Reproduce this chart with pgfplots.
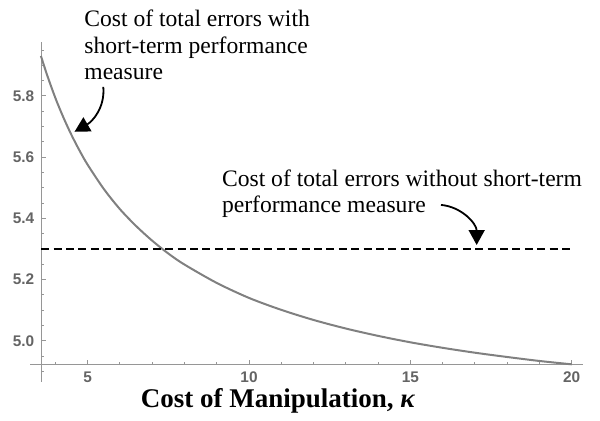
\documentclass[border=0pt]{standalone}
\usepackage{fontspec}
\setmainfont{Liberation Serif}
\newfontfamily\ticksans{Liberation Sans}
\usepackage{pgfplots}
\usepackage{pgfplotstable}
\pgfplotsset{compat=1.18}
\usetikzlibrary{arrows.meta}

\definecolor{curvegray}{RGB}{128,128,128}
\definecolor{axisgray}{RGB}{150,150,150}
\definecolor{labelgray}{RGB}{100,100,100}

% cost of total errors with the short-term measure
\pgfplotstableread{
kappa cost
3.55  5.931
3.75  5.866
4.00  5.793
4.25  5.729
4.50  5.672
4.75  5.621
5.00  5.575
5.50  5.496
6.00  5.430
6.50  5.375
7.00  5.327
7.50  5.285
8.00  5.249
9.00  5.189
10.0  5.140
11.0  5.101
12.0  5.068
13.0  5.040
14.0  5.016
15.0  4.995
16.0  4.977
17.0  4.961
18.0  4.947
19.0  4.934
20.0  4.923
}\costdata

\begin{document}
\begin{tikzpicture}
\begin{axis}[
    x=16.135pt, y=153pt,
    xmin=3.212, xmax=20.339,
    ymin=4.8654, ymax=5.9775,
    axis lines=left,
    axis line style={axisgray, line width=0.5pt, -},
    axis x line shift=-8.65pt,
    axis y line shift=-5.65pt,
    xtick={5,10,15,20},
    minor xtick={4,6,7,8,9,11,12,13,14,16,17,18,19},
    ytick={5.0,5.2,5.4,5.6,5.8},
    minor ytick={4.9,4.95,5.05,5.1,5.15,5.25,5.3,5.35,5.45,5.5,5.55,5.65,5.7,5.75,5.85,5.9,5.95},
    major tick length=2.2pt,
    minor tick length=1.35pt,
    tick align=inside,
    tick style={axisgray, line width=0.5pt},
    ticklabel style={font=\ticksans\bfseries\fontsize{7.7}{9}\selectfont, text=labelgray},
    /pgf/number format/assume math mode=true,
    yticklabel style={/pgf/number format/.cd, fixed, fixed zerofill, precision=1},
    clip=false,
    xlabel={Cost of Manipulation, \textit{κ}},
    xlabel style={at={(axis cs:10.90,4.781)}, anchor=base,
        font=\bfseries\fontsize{13.5}{16}\selectfont, text=black},
]
% page frame
\path (axis cs:2.282,4.7379) rectangle (axis cs:20.876,6.1137);

\addplot[curvegray, line width=1pt, smooth] table[x=kappa, y=cost] {\costdata};
\addplot[black, line width=1pt, dash pattern=on 4pt off 2.2pt] coordinates {(3.56,5.3) (20,5.3)};

\begin{scope}[font=\fontsize{11.8}{13}\selectfont]
\node[anchor=base west, inner sep=0pt] at (axis cs:4.885,6.0265) {Cost of total errors with};
\node[anchor=base west, inner sep=0pt] at (axis cs:4.885,5.9395) {short-term performance};
\node[anchor=base west, inner sep=0pt] at (axis cs:4.885,5.8523) {measure};
\node[anchor=base west, inner sep=0pt] at (axis cs:9.152,5.5036) {Cost of total errors without short-term};
\node[anchor=base west, inner sep=0pt] at (axis cs:9.152,5.4190) {performance measure};
\end{scope}

\draw[line width=0.9pt, -{Triangle[length=7.5pt, width=8pt]}]
    (axis cs:5.483,5.830) to[out=-85, in=30] (axis cs:4.591,5.683);
\draw[line width=0.9pt, -{Triangle[length=7.5pt, width=8pt]}]
    (axis cs:15.948,5.444) to[out=-5, in=90] (axis cs:17.054,5.313);
\end{axis}
\end{tikzpicture}
\end{document}
